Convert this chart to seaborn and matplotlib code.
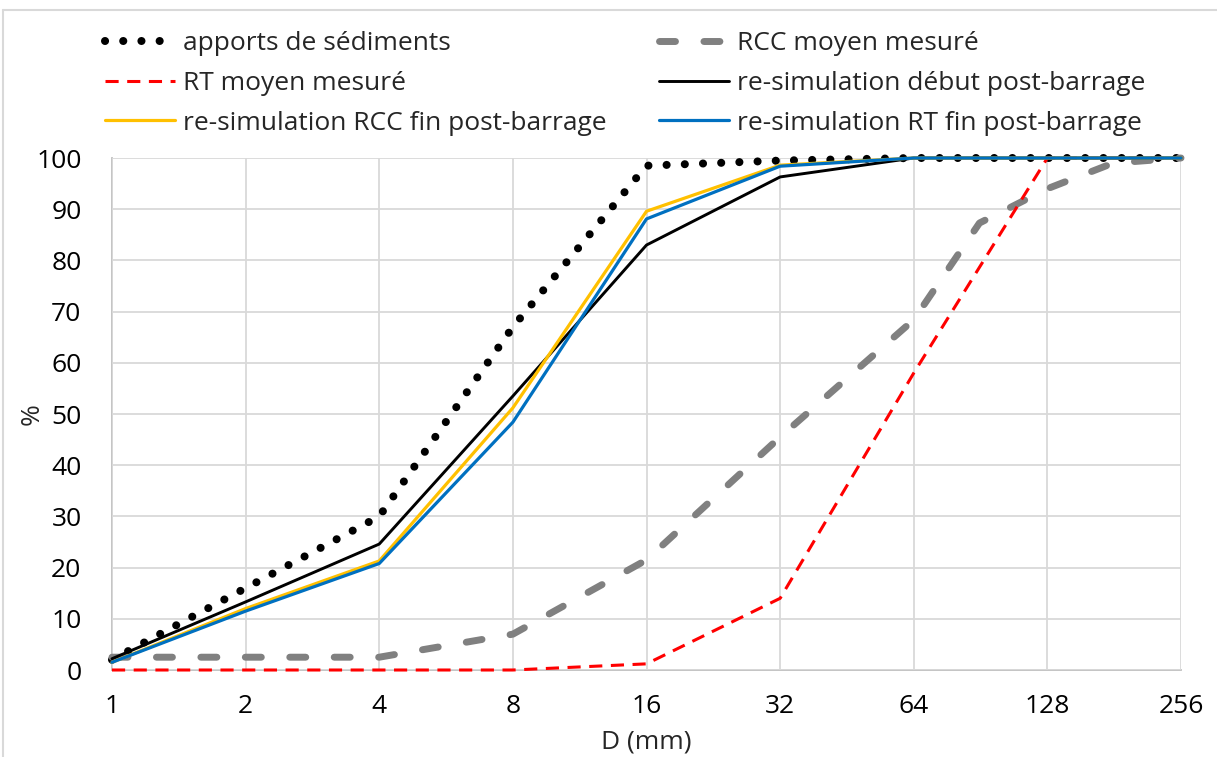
import pandas as pd
import matplotlib
matplotlib.use("Agg")
import matplotlib.pyplot as plt
import seaborn as sns
from matplotlib.lines import Line2D
from matplotlib.ticker import FixedLocator, FixedFormatter

# diamètres (mm) et courbes granulométriques (% passant)
diametres = [1, 2, 4, 8, 16, 32, 64, 128, 256]
apports_sediments = [2, 16, 30, 67, 98.5, 99.5, 100, 100, 100]
rt_moyen = [0, 0, 0, 0, 1.2, 14, 58, 100, 100]
resim_debut = [2.2, 13.3, 24.6, 53.5, 83, 96.3, 100, 100, 100]
resim_rcc_fin = [1.5, 12, 21.3, 51.2, 89.6, 98.6, 100, 100, 100]
resim_rt_fin = [1.5, 11.5, 20.8, 48.4, 88.1, 98.4, 100, 100, 100]

diametres_rcc = [1, 2, 4, 8, 16, 32, 64, 90, 128, 180, 256]
rcc_moyen = [2.5, 2.5, 2.5, 7, 21.5, 45.5, 68.4, 87.3, 94, 99, 100]

xticks = [1, 2, 4, 8, 16, 32, 64, 128, 256]
xtick_labels = ["1", "2", "4", "8", "16", "32", "64", "128", "256"]

FS = 19

sns.set_style("white")
plt.rcParams["font.family"] = ["Open Sans", "DejaVu Sans"]

fig = plt.figure(figsize=(12.17, 7.57), dpi=100)
ax = fig.add_axes([112 / 1217, 1 - 670 / 757, (1181 - 112) / 1217, (670 - 158) / 757])

series = [
    ("apports de sédiments", diametres, apports_sediments,
     dict(color="black", lw=5.8, linestyle=(0, (0.01, 2.25)), dash_capstyle="round")),
    ("RCC moyen mesuré", diametres_rcc, rcc_moyen,
     dict(color="#808080", lw=5.0, linestyle=(0, (2.3, 4.1)), dash_capstyle="round")),
    ("RT moyen mesuré", diametres, rt_moyen,
     dict(color="#FF0000", lw=2.2, linestyle=(0, (4.3, 2.8)), dash_capstyle="butt")),
    ("re-simulation début post-barrage", diametres, resim_debut,
     dict(color="black", lw=2.1, linestyle="-")),
    ("re-simulation RCC fin post-barrage", diametres, resim_rcc_fin,
     dict(color="#FFC000", lw=2.3, linestyle="-")),
    ("re-simulation RT fin post-barrage", diametres, resim_rt_fin,
     dict(color="#0070C0", lw=2.3, linestyle="-")),
]

for nom, xs, ys, style in series:
    df = pd.DataFrame({"D": xs, "pct": ys})
    sns.lineplot(data=df, x="D", y="pct", ax=ax, label=nom,
                 estimator=None, sort=False, clip_on=False, **style)

ax.set_xscale("log", base=2)
ax.set_xlim(1, 256)
ax.set_ylim(0, 100)
ax.xaxis.set_major_locator(FixedLocator(xticks))
ax.xaxis.set_major_formatter(FixedFormatter(xtick_labels))
ax.xaxis.set_minor_locator(FixedLocator([]))
ax.set_yticks(range(0, 101, 10))
ax.grid(True, color="#d9d9d9", lw=1.3)
ax.set_axisbelow(True)
for s in ["top", "right"]:
    ax.spines[s].set_visible(False)
for s in ["left", "bottom"]:
    ax.spines[s].set_color("#bfbfbf")
    ax.spines[s].set_linewidth(1.3)
    ax.spines[s].set_zorder(0.5)
ax.tick_params(axis="y", length=0, pad=22, labelsize=FS, colors="black")
ax.tick_params(axis="x", length=0, pad=17, labelsize=FS, colors="black")
ax.set_xlabel("D (mm)", fontsize=FS)
ax.set_ylabel("%", fontsize=FS)
ax.xaxis.set_label_coords(0.5, (670 - 742) / 512, transform=ax.transAxes)
ax.yaxis.set_label_coords((32 - 112) / 1069, 0.5, transform=ax.transAxes)
ax.xaxis.label.set_va("center")
ax.yaxis.label.set_va("center")

handles, labels = ax.get_legend_handles_labels()
ax.get_legend().remove()
ordre = [0, 2, 4, 1, 3, 5]
fig.legend([handles[i] for i in ordre], [labels[i] for i in ordre],
           ncol=2, loc="upper left", bbox_to_anchor=(105 / 1217, 1 - 31 / 757),
           frameon=False, fontsize=FS, handlelength=2.65, handletextpad=0.3,
           columnspacing=2.0, labelspacing=0.56, borderpad=0, borderaxespad=0)

# cadre du graphique
fig.add_artist(Line2D([3 / 1217, 1], [1 - 10 / 757, 1 - 10 / 757], color="#d9d9d9", lw=1.5))
fig.add_artist(Line2D([3 / 1217, 3 / 1217], [0, 1 - 10 / 757], color="#d9d9d9", lw=1.5))

fig.savefig("out.png", dpi=100)
